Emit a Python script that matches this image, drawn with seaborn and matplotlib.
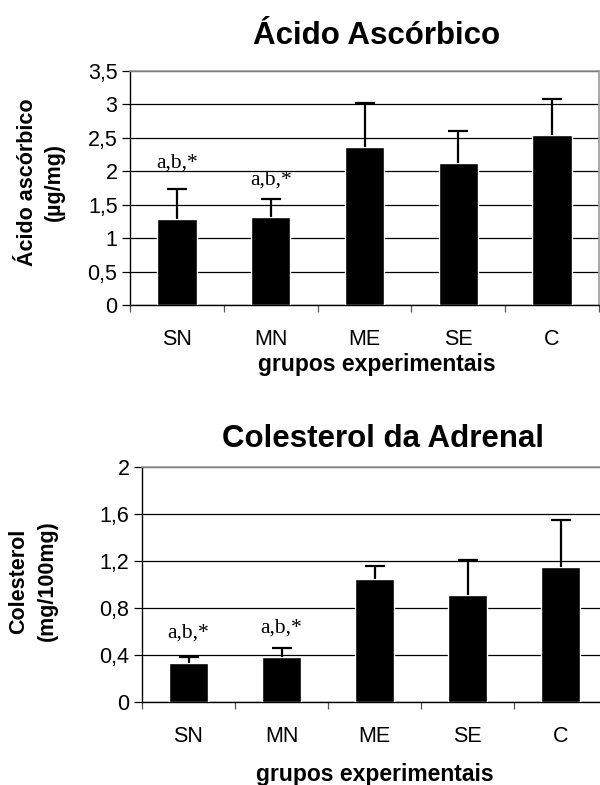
import matplotlib
matplotlib.use("Agg")
import matplotlib.pyplot as plt
import matplotlib.ticker as mticker
import seaborn as sns
import numpy as np

sns.set_theme(style="white")
plt.rcParams["font.family"] = ["Liberation Sans", "DejaVu Sans"]
plt.rcParams["text.color"] = "black"
plt.rcParams["xtick.color"] = "black"
plt.rcParams["ytick.color"] = "black"

GROUPS = ["SN", "MN", "ME", "SE", "C"]

# Ácido ascórbico (µg/mg)
ascorbic_mean = [1.29, 1.32, 2.37, 2.13, 2.55]
ascorbic_top = [1.73, 1.58, 3.02, 2.60, 3.08]
ascorbic_ticks = [0, 0.5, 1, 1.5, 2, 2.5, 3, 3.5]
ascorbic_ticklabels = ["0", "0,5", "1", "1,5", "2", "2,5", "3", "3,5"]
ascorbic_marks = {"SN": 2.13, "MN": 1.87}

# Colesterol (mg/100mg)
chol_mean = [0.33, 0.38, 1.05, 0.91, 1.15]
chol_top = [0.38, 0.46, 1.16, 1.21, 1.55]
chol_ticks = [0, 0.4, 0.8, 1.2, 1.6, 2.0]
chol_ticklabels = ["0", "0,4", "0,8", "1,2", "1,6", "2"]
chol_marks = {"SN": 0.585, "MN": 0.63}

W, H = 600, 785


def panel(ax, means, tops, ticks, ticklabels, marks):
    sns.barplot(x=GROUPS, y=means, color="black", saturation=1, width=0.42,
                ax=ax, zorder=3)
    err = np.array(tops) - np.array(means)
    _, caps, _ = ax.errorbar(range(len(GROUPS)), means, yerr=[np.zeros(len(err)), err],
                             fmt="none", ecolor="black", elinewidth=1.6, capsize=7,
                             capthick=1.6, zorder=4)
    caps[0].set_visible(False)  # nur obere Kappe
    ax.set_ylim(ticks[0], ticks[-1])
    ax.set_xlim(-0.5, len(GROUPS) - 0.5)
    ax.yaxis.set_major_locator(mticker.FixedLocator(ticks))
    ax.set_yticklabels(ticklabels, fontsize=15.5)
    ax.yaxis.grid(True, color="black", linewidth=0.9, zorder=0)
    ax.set_axisbelow(True)
    ax.tick_params(axis="y", length=6, width=0.9, color="black", pad=3, direction="out", left=True)
    ax.tick_params(axis="x", which="major", length=0, labelsize=15.5, pad=17)
    ax.xaxis.set_minor_locator(mticker.FixedLocator(np.arange(-0.5, len(GROUPS), 1)))
    ax.tick_params(axis="x", which="minor", length=5, width=0.9, color="#555555",
                   direction="out", bottom=True)
    for side in ["left", "bottom"]:
        ax.spines[side].set_color("black")
        ax.spines[side].set_linewidth(1.0)
    for side in ["top", "right"]:
        ax.spines[side].set_color("#999999")
        ax.spines[side].set_linewidth(1.2)
    ax.set_xlabel("")
    ax.set_ylabel("")
    for g, y in marks.items():
        ax.text(GROUPS.index(g), y, "a,b,*", ha="center", va="center",
                fontsize=15.5, family=["Liberation Serif", "DejaVu Serif"], zorder=5)


fig = plt.figure(figsize=(W / 100, H / 100), dpi=100)

# oberes Panel
ax1 = fig.add_axes([130 / W, 1 - 305 / H, 469 / W, 234 / H])
panel(ax1, ascorbic_mean, ascorbic_top, ascorbic_ticks, ascorbic_ticklabels, ascorbic_marks)
fig.text(377 / W, 1 - 36 / H, "Ácido Ascórbico", ha="center", va="center",
         fontsize=22.5, fontweight="bold")
fig.text(377 / W, 1 - 364 / H, "grupos experimentais", ha="center", va="center",
         fontsize=16.5, fontweight="bold")
fig.text(41 / W, 1 - 182 / H, "Ácido ascórbico\n(µg/mg)", ha="center", va="center",
         rotation=90, fontsize=15.5, fontweight="bold", linespacing=1.35,
         multialignment="center")

# unteres Panel
ax2 = fig.add_axes([142 / W, 1 - 702 / H, 465 / W, 235 / H])
panel(ax2, chol_mean, chol_top, chol_ticks, chol_ticklabels, chol_marks)
fig.text(383 / W, 1 - 439 / H, "Colesterol da Adrenal", ha="center", va="center",
         fontsize=22.5, fontweight="bold")
fig.text(375 / W, 1 - 775 / H, "grupos experimentais", ha="center", va="center",
         fontsize=16.5, fontweight="bold")
fig.text(33 / W, 1 - 581 / H, "Colesterol\n(mg/100mg)", ha="center", va="center",
         rotation=90, fontsize=15.5, fontweight="bold", linespacing=1.45,
         multialignment="center")

fig.savefig("out.png", dpi=100)
